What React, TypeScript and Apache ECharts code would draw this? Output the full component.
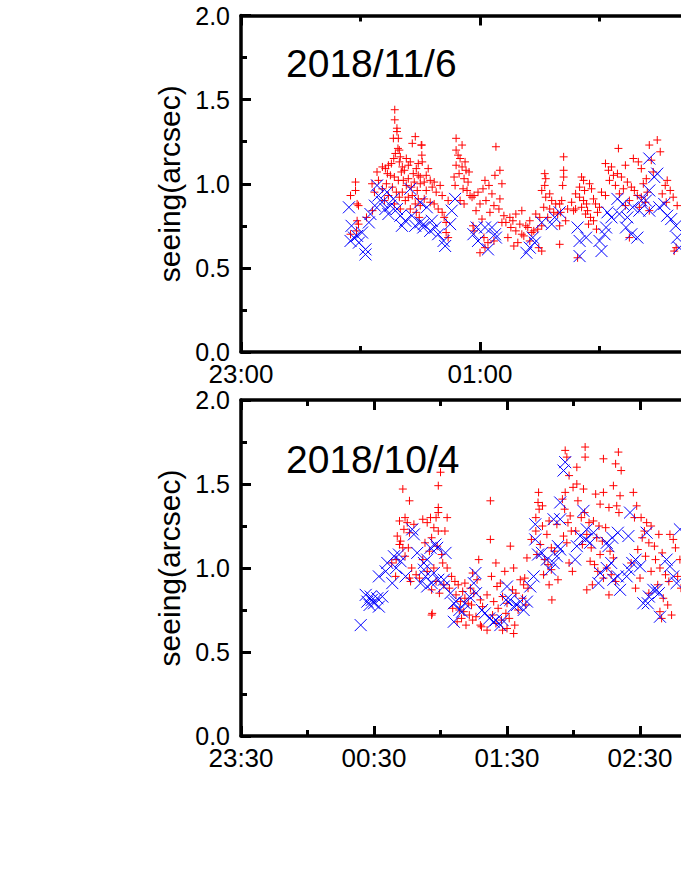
import React, { useEffect, useRef } from "react";
import * as echarts from "echarts";

const titles = ["2018/11/6", "2018/10/4"];
const yName = "seeing(arcsec)";

// time in minutes after midnight (negative = before midnight), seeing in arcsec
const topRed: [number, number][] = [
  [-5,0.93],[-2.5,0.96],[-2.5,1.01],[-1.7,0.88],[-1,0.87],[-1.7,0.78],[-5,0.70],[-2,0.72],[-1,0.76],
  [3,0.80],[5.8,1.00],[6,0.84],[7,0.95],[8.3,1.07],[9,1.02],
  [17.2,1.44],[17.2,1.38],[18.3,1.33],[18.3,1.31],[16.5,1.27],[19,1.27],[18.8,1.21],[17.5,1.18],[16.7,1.15],[19.5,1.13],[14,1.11],[12.5,1.09],[15,1.05],[17,1.04],[19,1.02],[13,1.00],[16,0.98],[11,0.97],[18,0.95],[14,0.93],[19.5,0.92],[12,0.90],[17,0.88],[20,0.85],[13.5,1.06],[11,1.10],[15.5,1.12],[20,1.16],[19.5,1.20],
  [27.5,1.28],[26,1.24],[30.5,1.23],[23,1.15],[25,1.13],[24,1.11],[21,1.10],[28,1.09],[22,1.08],[26.5,1.06],[29,1.05],[24,1.03],[21.5,1.02],[27,1.01],[30,1.00],[23,0.99],[25.5,0.98],[28.5,0.96],[21,0.95],[26,0.93],[24,0.92],[29,0.91],[22.5,0.90],[27.5,0.88],[30,0.87],[25,0.85],[28,0.83],[29.5,0.80],[20.5,1.07],[30,1.04],[29,1.12],
  [30.8,1.23],[30.8,1.17],[31,1.13],[34,1.09],[33,1.05],[32,1.01],[35,1.02],[37,1.01],[36,0.98],[33,0.96],[38,0.95],[41,0.93],[32,0.91],[35,0.89],[37,0.88],[39,0.85],[41,0.83],[42,0.80],[43,0.77],[43,0.71],[44,0.68],[44,0.90],[40,0.99],
  [48,1.27],[51,1.23],[48,1.20],[49,1.17],[50,1.15],[52.5,1.13],[48,1.11],[51,1.10],[53,1.08],[49.5,1.06],[47,1.04],[52,1.03],[54,1.01],[47.5,0.99],[51.5,0.97],[53.5,0.96],[55,0.93],[56,0.92],[50,0.90],[52,0.88],[54.5,1.07],
  [68,1.22],[70,1.08],[67.5,1.05],[62.5,1.02],[71,1.00],[64.5,0.99],[61.5,0.97],[59,0.95],[66,0.94],[57,0.93],[70,0.91],[63,0.90],[60,0.88],[67,0.87],[69.5,0.85],[58,0.84],[65,0.83],[72,0.81],[61,0.79],[71,0.77],[56.5,0.75],[57,0.72],[62,0.68],[64,0.65],[62.5,0.62],[60,0.59],[67,0.66],
  [78,0.82],[75,0.80],[76.5,0.78],[80,0.76],[83,0.75],[85,0.78],[75.5,0.74],[78,0.72],[81,0.70],[84,0.74],[87,0.72],[89,0.73],[90,0.80],[88,0.82],[82,0.69],[85,0.66],[79,0.65],[77,0.63],[91,0.60],[86,0.71],[74,0.68],[73,0.77],[81,0.84],[89.5,0.62],[91,0.75],
  [92.5,1.06],[93,1.03],[92.5,0.99],[91,0.96],[95,0.94],[93,0.92],[96,0.90],[98,0.88],[92,0.86],[95,0.85],[97,0.83],[99,0.82],[94,0.80],[102,1.16],[102,1.08],[102,1.04],[101.5,0.99],[101,0.90],[100,0.88],[100.5,0.83],[100,0.75],[100,0.64],[103,0.78],[104,0.85],
  [111,1.04],[112,1.02],[110,0.98],[112.5,0.96],[108,0.94],[110,0.92],[112,0.90],[113.5,0.88],[111,0.86],[108,0.85],[114,0.84],[113,0.82],[115.5,0.80],[116,0.97],[117,0.91],[118,0.88],[120,0.86],[119,0.83],[117,0.78],[114.5,0.76],[118.5,0.73],[109,0.56],[121,0.95],[123,0.93],[115,1.00],[106,0.89],[107,0.84],
  [129.5,1.21],[123,1.12],[126,1.10],[124.5,1.08],[129,1.06],[127,1.05],[131,1.04],[125,1.02],[134,1.01],[128,0.99],[136,0.98],[132,0.97],[137.5,0.96],[130,0.94],[139,0.93],[141,0.92],[135,0.90],[143,0.89],[133,0.87],[140,0.86],[145,0.84],[137,1.15],[139.5,1.13],[141,1.09],[149,1.26],[145,1.23],[150.5,1.19],[146,1.14],[147,1.07],[143.5,1.03],[135,0.68],[133,1.11],[142,1.00],[144,0.95],
  [153,0.99],[151.5,0.94],[155.5,0.96],[157,0.92],[153.5,0.89],[158.5,0.62],[157.5,0.60],[154,1.02],[159,0.87]
];

const topBlue: [number, number][] = [
  [-5.8,0.86],[-5,0.66],[-4.5,0.75],[-3.3,0.68],[-1.7,0.69],[-0.8,0.65],[0.8,0.71],[2.5,0.61],[2.5,0.58],[4.2,0.77],[5,0.82],[7.2,0.87],[8.3,0.99],[9,0.93],[10.8,0.89],[12.5,0.85],[13.3,0.95],[14,0.82],[15,0.87],[16.5,0.91],[18.3,0.85],[20,0.81],[20.8,0.75],[22.5,0.78],[25,0.97],[25.8,0.81],[27.5,0.75],[30,0.77],[30,0.89],[31.5,0.74],[31.7,0.76],[33.3,0.86],[35,0.72],[35.8,0.78],[37.5,0.74],[39,0.70],[41.7,0.66],[42.5,0.63],[45,0.76],[45.8,0.84],[47.5,0.91],
  [56.7,0.70],[58.3,0.74],[59,0.66],[62.5,0.74],[64,0.61],[66,0.74],[67.5,0.70],[68,0.68],[83.3,0.59],[85,0.62],[86.5,0.68],[87.5,0.65],[91,0.77],[96,0.76],[97.5,0.80],[100,0.83],
  [109,0.74],[110,0.66],[110,0.57],[113.3,0.68],[120,0.66],[121,0.60],[122.5,0.70],[123.3,0.74],[124,0.83],[126,0.80],[129,0.91],[130,0.82],[131.7,0.88],[133.3,0.74],[134,0.80],[136,0.70],[136.7,0.86],[139,0.68],[140,0.84],[141,0.90],[143.3,0.90],[145,0.96],[145,1.15],[145,0.84],[147.5,1.04],[149,1.06],[150,0.86],[152.5,0.88],[154,0.81],[156,0.79],[158.3,0.75],[159,0.68],[160,0.62]
];

const bottomRed: [number, number][] = [
  [43,1.47],[46,1.40],[44,1.30],[45,1.27],[41.5,1.28],[43.5,1.23],[46,1.21],[40.5,1.19],[42,1.16],[41.5,1.14],[43,1.12],[45.5,1.12],[44,1.07],[40,1.05],[39.75,0.95],[46,0.94],[46.5,0.92],[38,1.03],[47,1.00],
  [52,1.29],[48,1.26],[54,1.27],[60,1.57],[59,1.49],[59,1.36],[59,1.33],[55.5,1.30],[58,1.30],[63,1.30],[57,1.24],[59,1.22],[62,1.22],[56,1.18],[53,1.15],[58.5,1.13],[55,1.10],[60.5,1.08],[52,1.05],[61,1.03],[57,1.00],[54,0.98],[49,0.96],[50.5,0.94],[58,0.92],[61.5,0.90],[56,0.87],[59.5,0.85],[56.25,0.73],[56,0.72],
  [77.25,1.05],[63,1.00],[65,0.95],[66.5,0.92],[68,0.90],[64,0.88],[70,0.86],[67,0.84],[71,0.82],[69,0.80],[72.5,0.79],[74,0.78],[65.5,0.76],[68.5,0.75],[70.5,0.74],[73,0.72],[76,0.71],[69.5,0.70],[67.5,0.68],[71.5,0.66],[75,0.85],[73.5,0.88],[76.5,0.93],[74.5,0.97],[78,0.81],[79,0.77],[71,0.91],[74.5,0.69],[78.5,0.65],[78,0.66],
  [82.5,1.40],[82.5,1.17],[91.5,1.13],[85,1.03],[93,1.00],[89,0.98],[83,0.95],[96,0.93],[87,0.91],[85.5,0.89],[92.5,0.87],[94,0.85],[81,0.84],[88,0.83],[97,0.82],[84,0.80],[90,0.79],[98.5,0.78],[86,0.76],[95,0.75],[89.5,0.73],[83.5,0.72],[91,0.70],[87.5,0.69],[85,0.67],[93.5,0.66],[90,0.64],[88,0.63],[81,0.63],[93,0.61],[99.5,0.88],[97.5,0.90],[98,0.94],[99,1.06],
  [104.25,1.45],[104,1.39],[106,1.37],[104.5,1.35],[103,1.30],[109,1.28],[112.5,1.26],[106,1.25],[103,1.22],[108,1.20],[101,1.17],[105,1.14],[110,1.12],[111.5,1.10],[103.5,1.08],[107,1.05],[108.5,1.02],[110,0.99],[106.5,0.96],[113,0.93],[109,0.90],[110.25,0.81],
  [116.25,1.70],[117,1.66],[121.5,1.60],[118,1.55],[116.25,1.45],[115,1.41],[116,1.35],[118.5,1.31],[117.5,1.27],[119,1.22],[115.5,1.19],[117,1.15],[118,1.03],[119.5,0.98],[119.8,1.48],
  [125.25,1.72],[125.25,1.66],[133.5,1.65],[121.5,1.50],[124.5,1.47],[133.5,1.45],[130,1.44],[122,1.40],[132,1.38],[136,1.36],[125,1.33],[123.5,1.30],[129,1.28],[127,1.27],[131.5,1.25],[134.5,1.24],[121,1.22],[126,1.20],[130.5,1.18],[133,1.16],[124,1.14],[128,1.12],[136.5,1.10],[132,1.08],[138,1.06],[127.5,1.04],[129.5,1.02],[135,1.00],[131,0.98],[137,0.96],[133.5,0.94],[139,0.92],[128.5,0.90],[126,0.87],[136,0.84],[140.25,1.69],[139,1.62],[141.5,1.58],[138,1.49],[141,1.43],[139.5,1.37],[140.5,1.33],
  [147,1.45],[148.5,1.37],[150.5,1.30],[147.5,1.30],[153,1.27],[155,1.25],[152,1.22],[158.5,1.20],[151,1.18],[154,1.15],[156.5,1.13],[149,1.11],[160,1.09],[152.5,1.07],[157,1.05],[146,1.03],[159,1.00],[155,0.98],[161.5,0.96],[150,0.94],[163,0.92],[158,0.90],[148,0.88],[154,0.85],[160.5,0.82],[162.5,0.78],[159,0.74],[159.75,0.70],[164.25,0.72],[165,1.17],[166,1.12],[168,1.05],[167,0.95],[163.5,1.20],[168.5,0.88]
];

const bottomBlue: [number, number][] = [
  [24,0.66],[26.25,0.84],[27,0.80],[28.5,0.83],[30,0.79],[31.5,0.82],[32.2,0.77],[33.75,0.83],[29,0.81],[28,0.78],[32.2,0.95],[35.25,0.98],[38.25,0.91],[39,1.07],[41.25,1.08],[42,1.04],[44.25,0.95],[36,1.03],[40,1.00],
  [47.25,1.23],[48,1.20],[49.5,1.09],[52.5,1.03],[53.25,0.95],[54,0.89],[55.5,1.12],[54,1.05],[52.5,0.99],[51,0.91],[56,0.91],[57.75,1.14],[58.5,1.12],[57,0.97],[59,0.93],[61.5,0.93],[62.25,1.09],[61.5,0.89],
  [64.5,0.85],[66,0.79],[66,0.68],[67,0.80],[68.5,0.75],[69.75,0.74],[71,0.79],[73,0.83],[75.75,0.97],[75,0.91],[76,0.85],[78.75,0.75],[80,0.73],[82,0.70],[84,0.68],[85,0.69],[87,0.66],[88,0.69],
  [90,0.89],[89.5,0.81],[91.5,0.81],[93,0.77],[94.5,0.78],[96,0.80],[97.5,0.75],[99,0.80],[100.5,0.89],[102,0.95],[102.75,1.17],[102.75,1.26],[104,1.08],[105.75,1.09],[108,1.05],[109.5,0.99],[111,1.03],[112.5,1.07],[111,1.29],[114,1.29],[114,1.39],[115.5,1.58],[116.25,1.63],[113,1.13],[114,1.11],
  [120.75,1.05],[121.5,1.13],[123,1.19],[124.5,1.34],[126,1.23],[125.5,1.17],[127.5,1.15],[129,1.21],[131.25,0.91],[132,0.97],[135,1.00],[137,1.03],[138,0.93],[140,0.95],[135.75,1.13],[135,1.15],[137.5,1.18],[140,1.21],
  [141,0.87],[144,0.95],[145,0.99],[146.5,1.03],[148,1.05],[144.75,1.19],[145.5,1.33],[150,1.01],[151.5,0.79],[153.5,0.79],[154,0.83],[156,0.87],[157.5,0.87],[158.5,0.85],[159,0.71],[153,1.21],[162,1.05],[163.5,1.01],[165,0.95],[166.5,0.91],[168,1.23]
];

const FONT = "'Liberation Sans', Arial, Helvetica, sans-serif";
const PLUS = "path://M5,0L5,10M0,5L10,5";
const CROSS = "path://M0,0L10,10M0,10L10,0";

function fmtTime(v: number): string {
  const m = ((Math.round(v) % 1440) + 1440) % 1440;
  const h = Math.floor(m / 60);
  const mm = m % 60;
  return String(h).padStart(2, "0") + ":" + String(mm).padStart(2, "0");
}

const lineStyle = { color: "#000", width: 3.5 };
const tickStyle = { color: "#000", width: 3 };

function makeX(gridIndex: number, min: number, max: number, interval: number) {
  const base: any = {
    type: "value",
    gridIndex,
    min,
    max,
    interval,
    axisLine: { show: true, onZero: false, lineStyle },
    axisTick: { show: true, inside: true, length: 10, lineStyle: tickStyle },
    minorTick: { show: true, splitNumber: 2, length: 6, lineStyle: tickStyle },
    splitLine: { show: false },
    minorSplitLine: { show: false },
  };
  return [
    {
      ...base,
      position: "bottom",
      axisLabel: {
        show: true,
        formatter: fmtTime,
        fontSize: 26,
        lineHeight: 20,
        fontFamily: FONT,
        color: "#000",
        margin: 12,
        showMinLabel: true,
        showMaxLabel: false,
        hideOverlap: false,
      },
    },
    { ...base, position: "top", axisLabel: { show: false } },
  ];
}

function makeY(gridIndex: number) {
  const base: any = {
    type: "value",
    gridIndex,
    min: 0,
    max: 2,
    interval: 0.5,
    axisLine: { show: true, onZero: false, lineStyle },
    axisTick: { show: true, inside: true, length: 10, lineStyle: tickStyle },
    minorTick: { show: true, splitNumber: 2, length: 6, lineStyle: tickStyle },
    splitLine: { show: false },
    minorSplitLine: { show: false },
  };
  return [
    {
      ...base,
      position: "left",
      name: yName,
      nameLocation: "middle",
      nameGap: 52,
      nameTextStyle: { fontSize: 30, fontFamily: FONT, color: "#000" },
      axisLabel: {
        show: true,
        formatter: (v: number) => v.toFixed(1),
        fontSize: 25,
        lineHeight: 18,
        fontFamily: FONT,
        color: "#000",
        margin: 11,
      },
    },
    { ...base, position: "right", axisLabel: { show: false } },
  ];
}

function scatter(data: [number, number][], xi: number, yi: number, red: boolean) {
  return {
    type: "scatter",
    xAxisIndex: xi,
    yAxisIndex: yi,
    data,
    symbol: red ? PLUS : CROSS,
    symbolSize: red ? 8 : 12,
    itemStyle: {
      color: "none",
      borderColor: red ? "#ff0000" : "#0000ff",
      borderWidth: 1,
      opacity: 1,
    },
    emphasis: { disabled: true },
    silent: true,
    z: red ? 2 : 3,
  };
}

export default function App() {
  const ref = useRef<HTMLDivElement>(null);
  useEffect(() => {
    if (!ref.current) return;
    const chart = echarts.init(ref.current, undefined, { renderer: "svg" });
    chart.setOption({
      animation: false,
      backgroundColor: "#fff",
      grid: [
        { left: 241, top: 15.5, width: 478, height: 336.5, outerBoundsMode: "none", containLabel: false },
        { left: 241, top: 400, width: 532, height: 336, outerBoundsMode: "none", containLabel: false },
      ],
      xAxis: [...makeX(0, -60, 180, 120), ...makeX(1, -30, 210, 60)],
      yAxis: [...makeY(0), ...makeY(1)],
      graphic: [
        {
          type: "text",
          x: 286,
          y: 63,
          style: { text: titles[0], fontSize: 39, fontFamily: FONT, fill: "#000", textVerticalAlign: "middle" },
        },
        {
          type: "text",
          x: 286,
          y: 459,
          style: { text: titles[1], fontSize: 39, fontFamily: FONT, fill: "#000", textVerticalAlign: "middle" },
        },
      ],
      series: [
        scatter(topRed, 0, 0, true),
        scatter(topBlue, 0, 0, false),
        scatter(bottomRed, 2, 2, true),
        scatter(bottomBlue, 2, 2, false),
      ],
    });
    return () => chart.dispose();
  }, []);
  return (
    <div
      ref={ref}
      style={{ position: "absolute", left: 0, top: 0, width: 681, height: 881, background: "#fff" }}
    />
  );
}
